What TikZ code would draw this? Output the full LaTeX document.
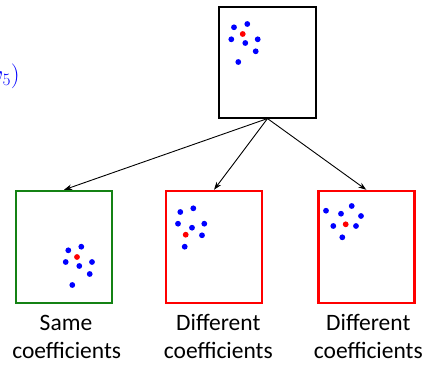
\documentclass[tikz,border=0pt]{standalone}
\usepackage{fontspec}
\newfontfamily\labelfont{Carlito}
\usetikzlibrary{arrows.meta}
\definecolor{dotblue}{RGB}{0,0,255}
\definecolor{dotred}{RGB}{255,0,0}
\definecolor{framegreen}{RGB}{20,130,20}
\definecolor{framered}{RGB}{255,0,0}
\begin{document}
\begin{tikzpicture}[x=1pt,y=-1pt,
  frame/.style={draw,minimum width=96pt,minimum height=112pt,inner sep=0pt},
  parentframe/.style={frame,line width=1.1pt,minimum width=97pt,minimum height=111pt},
  goodframe/.style={frame,draw=framegreen,line width=2.4pt},
  badframe/.style={frame,draw=framered,line width=2.4pt},
  link/.style={line width=0.9pt,-{Stealth[length=8pt,width=5.5pt]}},
  caption/.style={font=\labelfont\fontsize{23.5}{28}\selectfont,anchor=base,inner sep=0pt},
  bluedot/.style={fill=dotblue},
  reddot/.style={fill=dotred}
]
\useasboundingbox (0,0) rectangle (425,364);
\clip (0,0) rectangle (425,364);

% tail of the vector written to the left
\node[text=dotblue,anchor=base east,inner sep=0pt,font=\fontsize{23}{28}\selectfont] (vec) at (20,82) {$(v_1,\ldots,v_5)$};

% boxes
\node[parentframe] (top) at (267.5,62.5) {};
\node[goodframe] (same) at (64,247) {};
\node[badframe] (diffa) at (214,247) {};
\node[badframe] (diffb) at (366.3,247) {};

% point clouds
\foreach \x/\y in {234/27.3, 247.3/24, 231.3/39.3, 245.3/43, 257.7/39.3, 255.7/51.3, 238.3/62}
  \fill[bluedot] (\x,\y) circle (2.9pt);
\fill[reddot] (242.7,34) circle (2.9pt);

\foreach \x/\y in {68.3/250.3, 81.3/246.7, 65.7/262, 79.3/266, 92/262, 89.7/274, 72.3/285}
  \fill[bluedot] (\x,\y) circle (2.9pt);
\fill[reddot] (77,257) circle (2.9pt);

\foreach \x/\y in {180.3/212, 193.3/208.3, 178/223.7, 192/227.7, 204.3/223.7, 202/235.3, 184.7/246.7}
  \fill[bluedot] (\x,\y) circle (2.9pt);
\fill[reddot] (185.7,234.7) circle (2.9pt);

\foreach \x/\y in {326/210.7, 351.7/206, 341/213.7, 361/216, 333.3/226, 356/226, 342.3/237.3}
  \fill[bluedot] (\x,\y) circle (2.9pt);
\fill[reddot] (345.7,224.3) circle (2.9pt);

% connectors
\draw[link] (top.south) -- (same.north);
\draw[link] (top.south) -- (diffa.north);
\draw[link] (top.south) -- (diffb.north);

% captions
\node[caption] (samea) at (66,330) {Same};
\node[caption] (sameb) at (66.7,358) {coefficients};
\node[caption] (diffaa) at (218.3,330) {Different};
\node[caption] (diffab) at (218.3,358) {coefficients};
\node[caption] (diffba) at (368.3,330) {Different};
\node[caption] (diffbb) at (368.3,358) {coefficients};
\end{tikzpicture}
\end{document}
